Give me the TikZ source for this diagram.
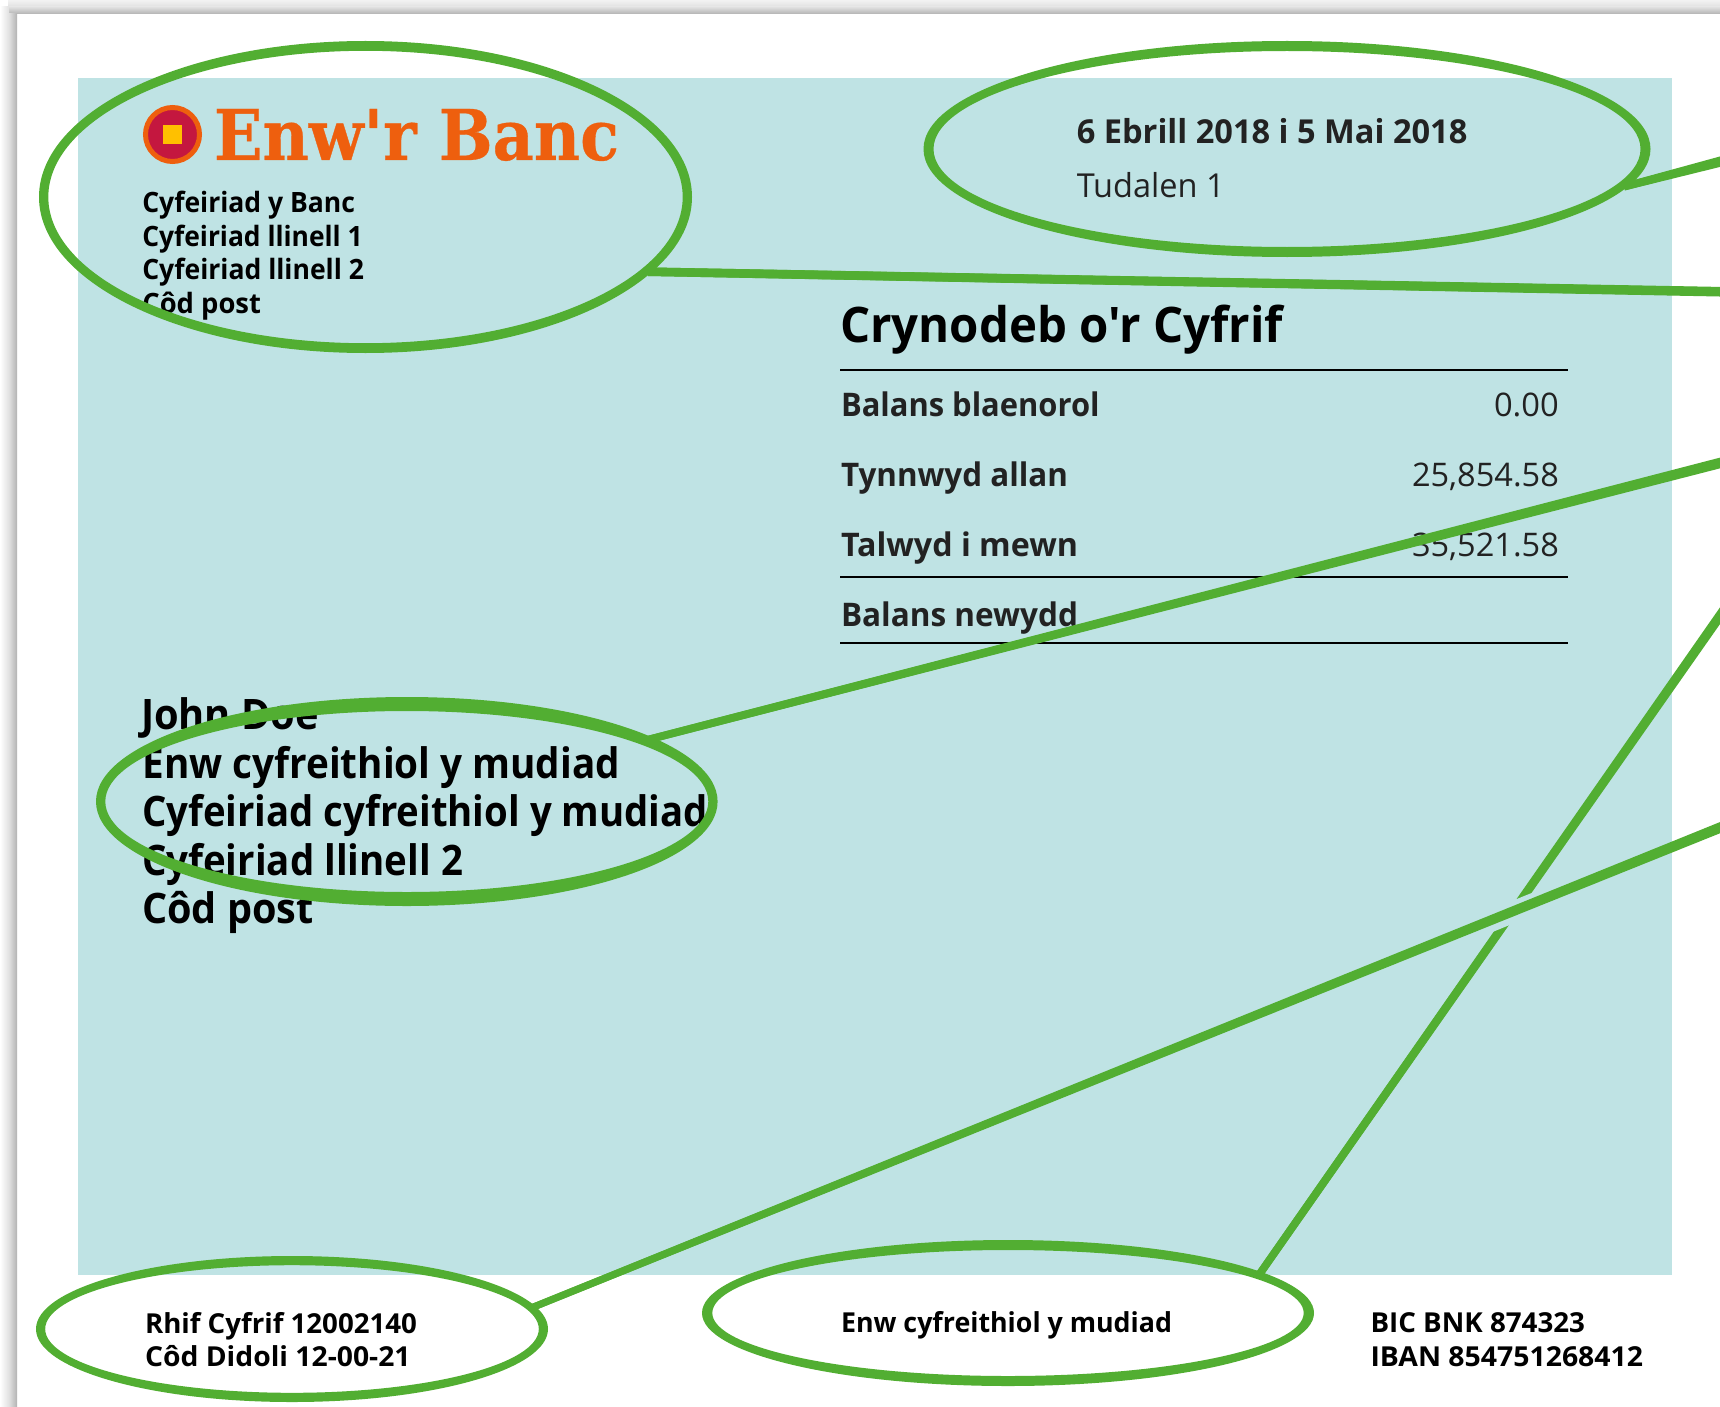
\documentclass[tikz,border=0pt]{standalone}
\usepackage{fontspec}
\usepackage{graphicx}
\usetikzlibrary{shapes.geometric,calc}
\newfontfamily\nsans{Open Sans}
\newfontfamily\slabf{DejaVu Serif}[BoldFeatures={FakeBold=0.5}]
\definecolor{panelc}{RGB}{191,227,228}
\definecolor{ringc}{RGB}{82,174,50}
\definecolor{inkc}{RGB}{34,34,34}
\definecolor{bankc}{RGB}{238,95,14}
\definecolor{logoc}{RGB}{196,23,63}
\definecolor{markc}{RGB}{255,192,0}
\tikzset{
  ovalanchor/.style={ellipse,inner sep=0pt,outer sep=0pt},
  ringfill/.style={fill=ringc,even odd rule},
  lead/.style={draw=ringc},
  halo/.style={draw=panelc,line width=21.5pt},
  rulel/.style={draw=black,line width=1.8pt},
  txt/.style={anchor=base west,inner sep=0pt,outer sep=0pt},
}
% name, x, baseline, width, font size, colour, text
\newcommand{\lbl}[7]{\node[txt,text=#6] (#1) at (#2,#3) {\resizebox{#4pt}{\height}{\fontsize{#5}{#5}\selectfont\nsans#7}};}
\newcommand{\ringoval}[7]{%
  \node[ovalanchor,minimum width={(#4+#6)*1pt},minimum height={(#5+#7)*1pt}] (#1) at (#2,#3) {};
  \fill[ringfill] (#2,#3) ellipse [x radius=#4pt,y radius=#5pt] (#2,#3) ellipse [x radius=#6pt,y radius=#7pt];
}
% tapered leader: from, to, half width at start, half width at end
\newcommand{\leader}[4]{%
  \draw[lead,line width={2*#3*1pt}] (#1) -- (#2);
  \fill[ringc] ($(#1)!#3pt!90:(#2)$) -- ($(#2)!#4pt!-90:(#1)$) -- ($(#2)!#4pt!90:(#1)$) -- ($(#1)!#3pt!-90:(#2)$) -- cycle;
}
\begin{document}
\begin{tikzpicture}[x=1pt,y=-1pt]
\path[use as bounding box] (0,0) rectangle (1720,1407);
\clip (0,0) rectangle (1720,1407);
\fill[white] (0,0) rectangle (1720,1407);
% page shadow
\shade[top color=white!95!black,bottom color=white!88!black] (8,0) rectangle (1720,7);
\shade[top color=white!88!black,bottom color=white!70!black] (8,7) rectangle (1720,14);
\shade[left color=white,right color=white!88!black] (0,7) rectangle (9,1407);
\shade[left color=white!88!black,right color=white!70!black] (9,14) rectangle (17,1407);
% panel
\fill[panelc] (78,78) rectangle (1672,1275);
% logo
\node[circle,fill=logoc,draw=bankc,line width=5pt,minimum size=54pt,inner sep=0pt] (logo) at (172.5,134.5) {};
\node[rectangle,fill=markc,minimum size=19pt,inner sep=0pt] (mark) at (172.5,134.5) {};
\node[txt,text=bankc] (bank) at (214,160) {\resizebox{405pt}{\height}{\fontsize{70}{70}\selectfont\slabf\bfseries Enw'r Banc}};
% bank address
\lbl{a1}{142.3}{212.5}{212.7}{28}{black}{\bfseries Cyfeiriad y Banc}
\lbl{a2}{142.3}{246.5}{220.4}{28}{black}{\bfseries Cyfeiriad llinell 1}
\lbl{a3}{142.3}{279.3}{221.7}{28}{black}{\bfseries Cyfeiriad llinell 2}
\lbl{a4}{142.3}{313.3}{118.7}{28}{black}{\bfseries Côd post}
% dates
\lbl{d1}{1076.8}{143.7}{390.6}{33}{inkc}{\bfseries 6 Ebrill 2018 i 5 Mai 2018}
\lbl{d2}{1076.8}{197.7}{147.8}{33}{inkc}{Tudalen 1}
% summary
\lbl{s0}{840}{342.7}{443}{49}{black}{\bfseries Crynodeb o'r Cyfrif}
\lbl{s1}{841}{416.7}{258.6}{32.5}{inkc}{\bfseries Balans blaenorol}
\lbl{v1}{1494}{416.7}{64.8}{32.5}{inkc}{0.00}
\lbl{s2}{841}{486.7}{227}{32.5}{inkc}{\bfseries Tynnwyd allan}
\lbl{v2}{1412}{486.7}{146.8}{32.5}{inkc}{25,854.58}
\lbl{s3}{841}{556.7}{237}{32.5}{inkc}{\bfseries Talwyd i mewn}
\lbl{v3}{1412}{556.7}{146.8}{32.5}{inkc}{35,521.58}
\lbl{s4}{841}{626}{237}{32.5}{inkc}{\bfseries Balans newydd}
\coordinate (r1a) at (840,370.3); \coordinate (r1b) at (1568,370.3);
\coordinate (r2a) at (840,576.7); \coordinate (r2b) at (1568,576.7);
\coordinate (r3a) at (840,642.7); \coordinate (r3b) at (1568,642.7);
\draw[rulel] (r1a) -- (r1b);
\draw[rulel] (r2a) -- (r2b);
\draw[rulel] (r3a) -- (r3b);
% recipient
\lbl{n1}{141}{729.3}{178}{42}{black}{\bfseries John Doe}
\lbl{n2}{142.5}{778.3}{477.6}{42}{black}{\bfseries Enw cyfreithiol y mudiad}
\lbl{n3}{142}{826.3}{566}{42}{black}{\bfseries Cyfeiriad cyfreithiol y mudiad}
\lbl{n4}{142}{875}{321}{42}{black}{\bfseries Cyfeiriad llinell 2}
\lbl{n5}{142}{923.3}{171.6}{42}{black}{\bfseries Côd post}
% footer
\lbl{f1}{145}{1333}{272}{27.5}{black}{\bfseries Rhif Cyfrif 12002140}
\lbl{f2}{145}{1366}{265.6}{27.5}{black}{\bfseries Côd Didoli 12-00-21}
\lbl{f3}{841}{1332.7}{331}{27.5}{black}{\bfseries Enw cyfreithiol y mudiad}
\lbl{f4}{1370.5}{1332.7}{214.5}{27.5}{black}{\bfseries BIC BNK 874323}
\lbl{f5}{1370.5}{1366.7}{272.5}{27.5}{black}{\bfseries IBAN 854751268412}
% ovals
\ringoval{e1}{365.5}{197}{326.5}{156}{317.2}{146.2}
\ringoval{e2}{1287}{149}{363.5}{108}{353.5}{98}
\ringoval{e3}{406.8}{801.5}{310.8}{104.5}{301.5}{90.5}
\ringoval{e4}{292}{1329}{256}{73}{246.8}{63.8}
\ringoval{e5}{1008}{1313}{306}{73}{295.7}{63}
% leaders run off the right edge
\coordinate (j1) at ($(e1)+(282.5,74.7)$);
\coordinate (j2) at ($(e2)+(337,37.7)$);
\coordinate (j3) at ($(e3)+(239.2,-61.3)$);
\coordinate (j5) at ($(e5)+(250,-36.7)$);
\coordinate (j6) at ($(e4)+(240,-21.4)$);
\coordinate (x1) at (1730,291.9);
\coordinate (x2) at (1730,159.1);
\coordinate (x3) at (1730,460.4);
\coordinate (x5) at (1730,601.4);
\coordinate (x6) at (1730,823.6);
\coordinate (gapa) at (1482,924.6);
\coordinate (gapb) at (1542,900.4);
\leader{j1}{x1}{4.3}{4.8}
\leader{j2}{x2}{3.8}{5.2}
\leader{j3}{x3}{3.8}{5.2}
\leader{j5}{x5}{3.8}{4.8}
\draw[halo] (gapa) -- (gapb);
\leader{j6}{x6}{3.5}{5.2}
\end{tikzpicture}
\end{document}
